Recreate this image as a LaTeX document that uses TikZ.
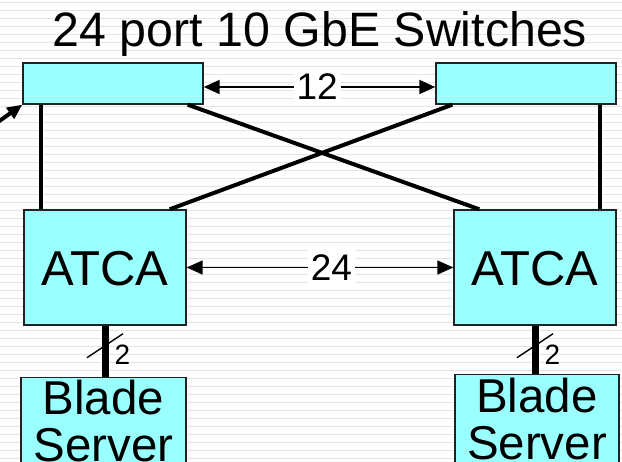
\documentclass[tikz,border=0pt]{standalone}
\usepackage{fontspec}
\setmainfont{Liberation Sans}
\usetikzlibrary{arrows.meta}
\definecolor{boxcyan}{HTML}{99FFFF}
\definecolor{stripe}{HTML}{E4E4E4}
\definecolor{edge}{HTML}{222222}

\begin{document}
\begin{tikzpicture}[x=1pt,y=-1pt,
  unitbox/.style={draw=edge,line width=1.4pt,fill=boxcyan,inner sep=0pt},
  titletext/.style={font=\fontsize{48.3}{48}\selectfont},
  shelftext/.style={font=\fontsize{49}{49}\selectfont},
  bladetext/.style={font=\fontsize{47.5}{46}\selectfont,inner sep=0pt},
  link/.style={line width=4pt},
  feed/.style={line width=7pt},
  dimline/.style={line width=1.8pt,{Triangle[length=16pt,width=14pt]}-{Triangle[length=16pt,width=14pt]}},
  dimlabel/.style={fill=white,font=\fontsize{37}{37}\selectfont,inner xsep=3pt,inner ysep=5pt},
  slash/.style={line width=1.4pt},
  countlabel/.style={font=\fontsize{28}{28}\selectfont,inner sep=0pt,anchor=base west}]

\useasboundingbox (0,0) rectangle (622,462);
\clip (0,0) rectangle (622,462);

% striped backdrop
\fill[white] (0,0) rectangle (622,462);
\foreach \k in {0,...,57}
  \draw[stripe,line width=1.8pt] (0,2.5+8*\k) -- (622,2.5+8*\k);

% title
\node[titletext,anchor=base] (title) at (320,47) {24 port 10 GbE Switches};

% switches
\node[unitbox,minimum width=180pt,minimum height=41pt] (swL) at (113,83.5) {};
\node[unitbox,minimum width=180pt,minimum height=41pt] (swR) at (526,83.5) {};

% ATCA shelves
\node[unitbox,minimum width=162pt,minimum height=115pt] (atcaL) at (105,267.5) {};
\node[unitbox,minimum width=162pt,minimum height=115pt] (atcaR) at (535,267.5) {};
\node[shelftext,anchor=base,inner sep=0pt] (atcaLt) at (105,286) {ATCA};
\node[shelftext,anchor=base,inner sep=0pt] (atcaRt) at (535,286) {ATCA};

% blade servers
\node[unitbox,minimum width=165pt,minimum height=120pt,anchor=north] (bladeL) at (103.5,377) {};
\node[unitbox,minimum width=164pt,minimum height=120pt,anchor=north] (bladeR) at (537,374) {};
\node[bladetext,anchor=base] (bladeLt) at (103.5,415) {\begin{tabular}[t]{@{}c@{}}Blade\\Server\end{tabular}};
\node[bladetext,anchor=base] (bladeRt) at (537,413) {\begin{tabular}[t]{@{}c@{}}Blade\\Server\end{tabular}};

% switch uplinks
\draw[link] ([xshift=19pt]swL.south west) -- ([xshift=18pt]atcaL.north west);
\draw[link] ([xshift=-17pt]swR.south east) -- ([xshift=-17pt]atcaR.north east);
\draw[link] ([xshift=-16pt]swL.south east) -- ([xshift=26pt]atcaR.north west);
\draw[link] ([xshift=17pt]swR.south west) -- ([xshift=-17pt]atcaL.north east);

% inter-switch and inter-shelf links
\draw[dimline] ([yshift=-3.5pt]swL.east) -- ([yshift=-3.5pt]swR.west)
  node[dimlabel,pos=0.49] (n12) {12};
\draw[dimline] (atcaL.east) -- (atcaR.west)
  node[dimlabel,pos=0.543] (n24) {24};

% shelf to blade feeds
\draw[feed] (atcaL.south) -- (atcaL.south |- bladeL.north);
\draw[feed] (atcaR.south) -- (atcaR.south |- bladeR.north);
\coordinate (midL) at ([yshift=-20pt]atcaL.south);
\coordinate (midR) at ([yshift=-20pt]atcaR.south);
\draw[slash] ([shift={(-18,12)}]midL) -- ([shift={(18,-12)}]midL);
\draw[slash] ([shift={(-18,12)}]midR) -- ([shift={(18,-12)}]midR);
\node[countlabel] (cL) at (114.5,365) {2};
\node[countlabel] (cR) at (544.5,365) {2};

% incoming pointer
\coordinate (ptr) at (-2,122);
\draw[link,-{Triangle[length=15pt,width=13pt]}] (ptr) -- (swL.south west);
\end{tikzpicture}
\end{document}
